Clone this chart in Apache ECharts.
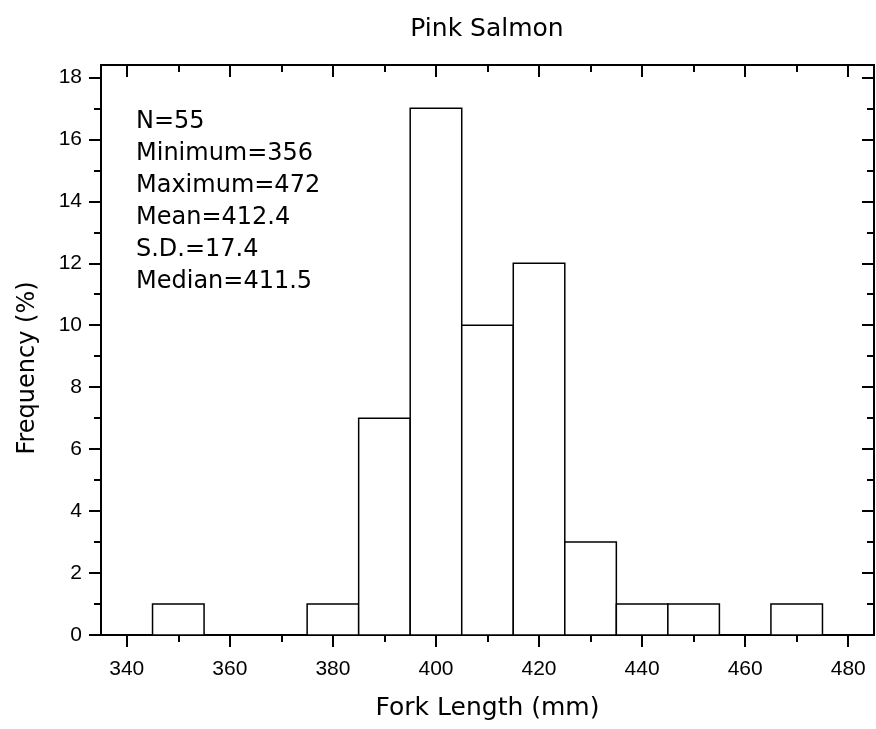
<!DOCTYPE html>
<html>
<head>
<meta charset="utf-8">
<script src="https://cdn.jsdelivr.net/npm/echarts@6/dist/echarts.min.js"></script>
<style>
  html, body { margin: 0; padding: 0; background: #fff; }
  #chart { width: 876px; height: 729px; }
</style>
</head>
<body>
<div id="chart"></div>
<script>
// histogram bins (centre of each 10 mm bin) and their frequency
var binCenters = [350, 360, 370, 380, 390, 400, 410, 420, 430, 440, 450, 460, 470];
var frequency  = [1, 0, 0, 1, 7, 17, 10, 12, 3, 1, 1, 0, 1];
var binWidth = 10;

// tick positions
var xMajor = [340, 360, 380, 400, 420, 440, 460, 480];
var xMinor = [350, 370, 390, 410, 430, 450, 470];
var yMajor = [0, 2, 4, 6, 8, 10, 12, 14, 16, 18];
var yMinor = [1, 3, 5, 7, 9, 11, 13, 15, 17];

var statsText = ['N=55', 'Minimum=356', 'Maximum=472', 'Mean=412.4', 'S.D.=17.4', 'Median=411.5'];

var font = '"DejaVu Sans", Verdana, sans-serif';
var tickFont = '"Liberation Sans", Arial, sans-serif';
var chart = echarts.init(document.getElementById('chart'));

// one axis per tick set: majors / minors, outside on bottom-left, inside on top-right
function xAx(pos, ticks, len, inside, labels, extra) {
    var a = {
        type: 'value', position: pos, min: 335, max: 485,
        axisLine: { show: true, onZero: false, lineStyle: { color: '#000', width: 2 } },
        axisTick: { show: true, inside: inside, length: len, customValues: ticks, lineStyle: { color: '#000', width: 2 } },
        axisLabel: labels ? { show: true, customValues: ticks, color: '#000', fontSize: 21, fontFamily: tickFont, margin: 24 } : { show: false },
        splitLine: { show: false }
    };
    return Object.assign(a, extra || {});
}
function yAx(pos, ticks, len, inside, labels, extra) {
    var a = {
        type: 'value', position: pos, min: 0, max: 18.4,
        axisLine: { show: true, onZero: false, lineStyle: { color: '#000', width: 2 } },
        axisTick: { show: true, inside: inside, length: len, customValues: ticks, lineStyle: { color: '#000', width: 2 } },
        axisLabel: labels ? { show: true, customValues: ticks, color: '#000', fontSize: 21, fontFamily: tickFont, margin: 19 } : { show: false },
        splitLine: { show: false }
    };
    return Object.assign(a, extra || {});
}

var option = {
    backgroundColor: '#fff',
    animation: false,
    title: {
        text: 'Pink Salmon', left: 482, top: 12, textAlign: 'center',
        textStyle: { fontSize: 25, fontWeight: 'normal', color: '#000', fontFamily: font }
    },
    grid: { left: 101, right: 2, top: 65, bottom: 94, show: false },
    xAxis: [
        xAx('bottom', xMajor, 12, false, true, {
            name: 'Fork Length (mm)', nameLocation: 'middle', nameGap: 61,
            nameTextStyle: { fontSize: 25, color: '#000', fontFamily: font }
        }),
        xAx('bottom', xMinor, 7, false, false),
        xAx('top', xMajor, 12, true, false),
        xAx('top', xMinor, 7, true, false)
    ],
    yAxis: [
        yAx('left', yMajor, 12, false, true, {
            name: 'Frequency (%)', nameLocation: 'middle', nameGap: 61,
            nameTextStyle: { fontSize: 24, color: '#000', fontFamily: font, padding: [0, 36, 0, 0] }
        }),
        yAx('left', yMinor, 7, false, false),
        yAx('right', yMajor, 12, true, false),
        yAx('right', yMinor, 7, true, false)
    ],
    graphic: [{
        type: 'text', left: 136, top: 106,
        style: { text: statsText.join('\n'), fontSize: 24, fontFamily: font, lineHeight: 32, fill: '#000' }
    }],
    series: [{
        type: 'custom',
        xAxisIndex: 0, yAxisIndex: 0,
        data: binCenters.map(function (c, i) { return [c, frequency[i]]; }),
        renderItem: function (params, api) {
            var c = api.value(0), v = api.value(1);
            if (!v) return null;
            var p0 = api.coord([c - binWidth / 2, v]);
            var p1 = api.coord([c + binWidth / 2, 0]);
            return {
                type: 'rect',
                shape: { x: p0[0], y: p0[1], width: p1[0] - p0[0], height: p1[1] - p0[1] },
                style: { fill: '#fff', stroke: '#000', lineWidth: 1.5 }
            };
        }
    }]
};
chart.setOption(option);
</script>
</body>
</html>
